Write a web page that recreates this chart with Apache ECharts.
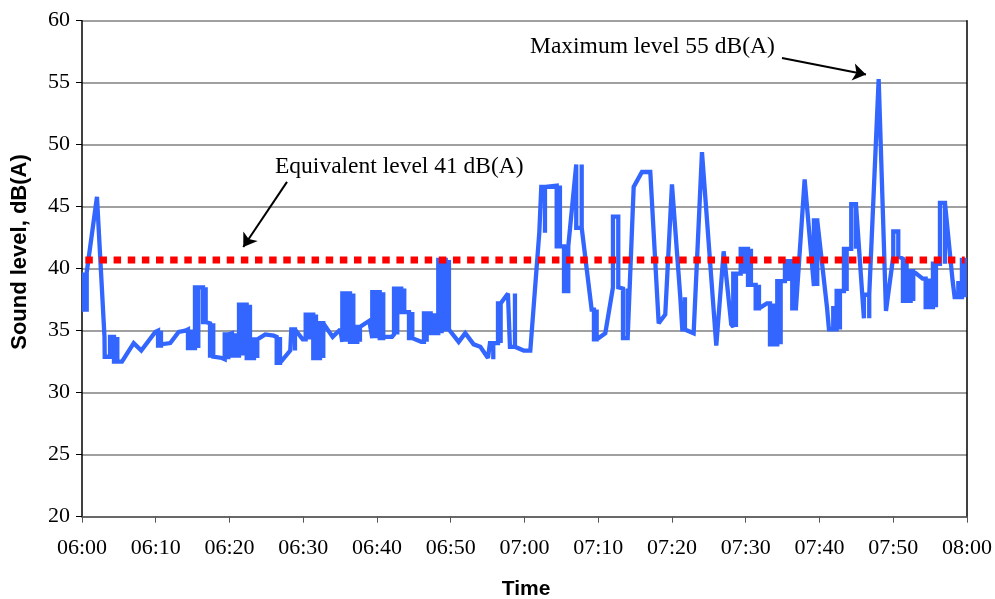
<!DOCTYPE html>
<html>
<head>
<meta charset="utf-8">
<script src="https://cdn.jsdelivr.net/npm/echarts/dist/echarts.min.js"></script>
<style>
html,body{margin:0;padding:0;background:#fff;}
#chart{width:995px;height:599px;}
</style>
</head>
<body>
<div id="chart"></div>
<script>
// Time axis: minutes after 06:00
const timeLabels = ['06:00','06:10','06:20','06:30','06:40','06:50','07:00','07:10','07:20','07:30','07:40','07:50','08:00'];
const levelTicks = [20, 25, 30, 35, 40, 45, 50, 55, 60];
const equivalentLevel = 40.7;   // dB(A), dotted line

// Measured sound level trace [minute after 06:00, dB(A)]
const trace0600 = [
[0.27,39.7],[0.27,36.7],[0.64,36.7],[0.64,39.7],
[2.03,45.8],[3.05,34.5],
[3.08,34.5],[3.08,32.9],[3.80,32.9],[3.80,34.5],
[4.34,34.5],[4.34,32.5],[4.79,32.5],[4.79,34.5],[4.79,32.5],
[5.42,32.5],[7.01,34.0],[8.04,33.4],[9.94,34.9],
[10.31,35.0],[10.31,33.8],[10.71,33.8],[10.71,35.0],[10.71,33.9],
[11.97,34.0],[13.11,34.9],[14.01,35.0],
[14.37,35.1],[14.37,33.6],[14.78,33.6],[14.78,35.1],[14.78,33.6],
[15.32,33.6],[15.32,38.5],[15.77,38.5],[15.77,33.6],[15.77,38.5],
[16.41,38.5],[16.41,35.7],[16.77,35.7],[16.77,38.5],[16.77,35.7],
[17.36,35.6],[17.36,33.0],[17.80,33.0],[17.80,35.6],[17.80,32.9],
[18.98,32.8],
[19.35,32.7],[19.35,34.7],[19.84,34.7],[19.84,32.7],[19.84,34.7],
[20.34,34.8],[20.34,33.0],[20.75,33.0],[20.75,34.8],[20.75,33.0],
[21.29,33.0],[21.29,37.1],[21.79,37.1],[21.79,33.0],[21.79,37.1],
[22.33,37.1],[22.33,32.8],[22.78,32.8],[22.78,37.1],[22.78,32.8],
[23.32,32.8],[23.32,34.3],[23.77,34.3],[23.77,32.8],[23.77,34.3],
[24.85,34.7],[25.99,34.6],
[26.40,34.5],[26.40,32.4],[26.85,32.4],[26.85,34.5],[26.85,32.4],
[28.24,33.4],
[28.38,33.4],[28.38,35.1],[28.88,35.1],[28.88,33.4],[28.88,35.1],
[29.93,34.3]
];
const trace0630 = [
[30.33,34.3],[30.33,36.3],[30.82,36.3],[30.82,34.3],[30.82,36.3],
[31.36,36.3],[31.36,32.8],[31.73,32.8],[31.73,36.3],[31.73,32.8],
[32.27,32.8],[32.27,35.6],[32.72,35.6],[32.72,32.8],[32.72,35.6],
[33.99,34.5],[35.02,35.1],
[35.30,34.1],[35.30,38.0],[35.80,38.0],[35.80,34.1],[35.80,38.0],
[36.34,38.0],[36.34,34.1],[36.79,34.1],[36.79,38.0],[36.79,34.1],
[37.33,34.1],[37.33,35.3],[37.69,35.3],[37.69,34.1],[37.69,35.3],
[38.96,35.8],
[39.36,34.4],[39.36,38.1],[39.82,38.1],[39.82,34.4],[39.82,38.1],
[40.37,38.1],[40.37,34.4],[40.85,34.4],[40.85,38.1],[40.85,34.5],
[42.03,34.5],
[42.31,34.7],[42.31,38.4],[42.75,38.4],[42.75,34.7],[42.75,38.4],
[43.29,38.4],[43.29,36.5],[43.70,36.5],[43.70,38.4],[43.70,36.5],
[44.34,36.5],[44.34,34.4],[44.79,34.4],[44.79,36.5],[44.79,34.4],
[46.01,34.1],
[46.37,34.1],[46.37,36.4],[46.74,36.4],[46.74,34.1],[46.74,36.4],
[47.28,36.4],[47.28,34.8],[47.77,34.8],[47.77,36.4],[47.77,34.8],
[48.31,34.8],[48.31,40.7],[48.77,40.7],[48.77,34.8],[48.77,40.7],
[49.32,40.7],[49.32,35.1],[49.76,35.1],[49.76,40.7],[49.76,35.1],
[51.08,34.1],[51.97,34.8],[53.11,33.9],[54.01,33.7],[55.05,32.8],
[55.32,32.7],[55.32,34.0],[55.77,34.0],[55.77,32.7],[55.77,34.0],
[56.41,34.0],[56.41,37.2],[56.77,37.2],[56.77,34.0],[56.77,37.2],
[57.76,38.0],
[58.03,38.0],[58.03,33.7],[58.71,33.7],[58.71,38.0],[58.71,33.7],
[59.89,33.4]
];
const trace0700 = [
[60.79,33.4],[62.01,42.9],
[62.28,42.9],[62.28,46.6],[62.78,46.6],[62.78,42.9],[62.78,46.6],
[64.37,46.7],[64.37,41.8],[64.81,41.8],[64.81,46.7],[64.81,41.8],
[65.36,41.8],[65.36,38.2],[65.94,38.2],[65.94,41.8],
[67.02,48.4],[67.02,43.3],[67.76,43.3],[67.76,48.4],[67.76,43.3],
[69.11,36.7],
[69.42,36.7],[69.42,34.3],[69.79,34.3],[69.79,36.7],[69.79,34.3],
[70.96,34.8],
[72.00,38.5],[72.00,44.2],[72.72,44.2],[72.72,38.5],
[73.36,38.4],[73.36,34.4],[73.99,34.4],[73.99,38.4],[73.99,34.4],
[74.81,46.6],[75.93,47.8],[77.06,47.8],[78.20,35.6],[79.09,36.3],[80.00,46.8],[81.13,37.7],
[81.40,37.7],[81.40,35.1],[81.76,35.1],[81.76,37.7],[81.76,35.1],
[82.94,34.8],[84.07,49.4],[86.01,33.8],[87.01,41.4],[88.04,35.5],
[88.31,35.3],[88.31,39.6],[88.68,39.6],[88.68,35.3],[88.68,39.6],
[89.32,39.6],[89.32,41.6],[89.76,41.6],[89.76,39.6],[89.76,41.6]
];
const trace0730 = [
[90.31,41.6],[90.31,38.7],[90.71,38.7],[90.71,41.6],[90.71,38.7],
[91.35,38.7],[91.35,36.8],[91.80,36.8],[91.80,38.7],[91.80,36.8],
[92.88,37.2],
[93.29,37.2],[93.29,33.9],[93.74,33.9],[93.74,37.2],[93.74,33.9],
[94.28,33.9],[94.28,39.0],[94.74,39.0],[94.74,33.9],[94.74,39.0],
[95.32,39.0],[95.32,40.6],[95.77,40.6],[95.77,39.0],[95.77,40.6],
[96.31,40.6],[96.31,36.8],[96.81,36.8],[96.81,40.6],[96.81,36.8],
[97.99,47.2],
[99.25,38.6],[99.25,43.9],[99.70,43.9],[99.70,38.6],[99.70,43.9],
[101.02,36.9],
[101.29,37.0],[101.29,35.1],[101.87,35.1],[101.87,37.0],[101.87,35.1],
[102.33,35.1],[102.33,38.2],[102.78,38.2],[102.78,35.1],[102.78,38.2],
[103.32,38.2],[103.32,41.6],[103.69,41.6],[103.69,38.2],[103.69,41.6],
[104.31,41.6],[104.31,45.2],[104.95,45.2],[104.95,41.6],[104.95,45.2],
[106.03,36.0],[106.03,37.9],[106.75,37.9],[106.75,36.0],[106.75,37.9],
[108.03,55.3],[109.02,36.6],
[110.01,41.0],[110.01,43.0],[110.69,43.0],[110.69,41.0],
[111.32,40.8],[111.32,37.4],[111.82,37.4],[111.82,40.8],[111.82,37.4],
[112.37,37.4],[112.37,39.8],[112.72,39.8],[112.72,37.4],[112.72,39.8],
[113.99,39.2],
[114.40,39.2],[114.40,36.9],[114.85,36.9],[114.85,39.2],[114.85,36.9],
[115.39,36.9],[115.39,40.4],[115.80,40.4],[115.80,36.9],[115.80,40.4],
[116.34,40.4],[116.34,45.3],[117.02,45.3],[117.02,40.4],[117.02,45.3],
[118.06,39.0],
[118.33,39.0],[118.33,37.7],[118.83,37.7],[118.83,39.0],[118.83,37.7],
[119.32,37.7],[119.32,40.7],[119.69,40.7],[119.69,37.7]
];

const equivalentSpan = [0.45, 119.7];
const annotations = {
  equivalent: {text: 'Equivalent level 41 dB(A)', at: [26.17, 48.2], from: [27.8, 47.0], to: [21.87, 41.75]},
  maximum: {text: 'Maximum level 55 dB(A)', at: [60.75, 57.88], from: [94.92, 56.99], to: [106.31, 55.66]}
};

const trace = [].concat(trace0600, trace0630, trace0700, trace0730);

const chart = echarts.init(document.getElementById('chart'), null, {renderer: 'canvas'});
const serif = '"Liberation Serif", "Times New Roman", serif';
const sans = '"Liberation Sans", Arial, sans-serif';

chart.setOption({
  animation: false,
  backgroundColor: '#ffffff',
  grid: {left: 82, right: 28, top: 20.7, bottom: 82.3, containLabel: false},
  xAxis: {
    type: 'value', min: 0, max: 120, interval: 10,
    axisLine: {show: true, lineStyle: {color: '#555', width: 1.5}},
    axisTick: {show: true, length: 6, lineStyle: {color: '#555', width: 1}},
    splitLine: {show: false},
    axisLabel: {formatter: v => timeLabels[Math.round(v / 10)], fontFamily: serif, fontSize: 22, color: '#000', margin: 21}
  },
  yAxis: [{
    type: 'value', min: levelTicks[0], max: levelTicks[levelTicks.length - 1], interval: 5,
    axisLine: {show: true, lineStyle: {color: '#000', width: 1.5}},
    axisTick: {show: true, length: 6, lineStyle: {color: '#000', width: 1}},
    splitLine: {show: true, lineStyle: {color: '#808080', width: 1.5}},
    axisLabel: {fontFamily: serif, fontSize: 22, color: '#000', margin: 12}
  }, {
    type: 'value', position: 'right', min: 20, max: 60, interval: 5,
    axisLine: {show: true, lineStyle: {color: '#000', width: 1.5}},
    axisTick: {show: false}, axisLabel: {show: false}, splitLine: {show: false}
  }],
  series: [{
    name: 'Sound level', type: 'line', data: trace,
    showSymbol: false, symbol: 'none', clip: true,
    lineStyle: {color: '#3366FF', width: 4.3, cap: 'butt', join: 'miter', miterLimit: 2}
  }, {
    name: 'Equivalent level', type: 'line',
    data: [[equivalentSpan[0], equivalentLevel], [equivalentSpan[1], equivalentLevel]],
    showSymbol: false, symbol: 'none',
    lineStyle: {color: '#FF0000', width: 7, type: [7.5, 6.64], cap: 'butt'},
    markLine: {
      silent: true, animation: false,
      symbol: ['none', 'arrow'], symbolSize: 13,
      label: {show: false},
      lineStyle: {color: '#000', width: 2, type: 'solid'},
      emphasis: {disabled: true},
      data: [
        [{coord: annotations.equivalent.from}, {coord: annotations.equivalent.to}],
        [{coord: annotations.maximum.from}, {coord: annotations.maximum.to}]
      ]
    }
  }]
});

const p1 = chart.convertToPixel({gridIndex: 0}, annotations.equivalent.at);
const p2 = chart.convertToPixel({gridIndex: 0}, annotations.maximum.at);

chart.setOption({
  graphic: [
    {type: 'text', x: p1[0], y: p1[1], style: {text: annotations.equivalent.text, font: '23.5px ' + serif, fill: '#000', textAlign: 'left', textVerticalAlign: 'middle'}},
    {type: 'text', x: p2[0], y: p2[1], style: {text: annotations.maximum.text, font: '23.5px ' + serif, fill: '#000', textAlign: 'left', textVerticalAlign: 'middle'}},
    {type: 'text', x: 20, y: 252, rotation: Math.PI / 2, style: {text: 'Sound level, dB(A)', font: 'bold 22px ' + sans, fill: '#000', textAlign: 'center', textVerticalAlign: 'middle'}},
    {type: 'text', x: 526, y: 589, style: {text: 'Time', font: 'bold 21px ' + sans, fill: '#000', textAlign: 'center', textVerticalAlign: 'middle'}}
  ]
});
</script>
</body>
</html>
